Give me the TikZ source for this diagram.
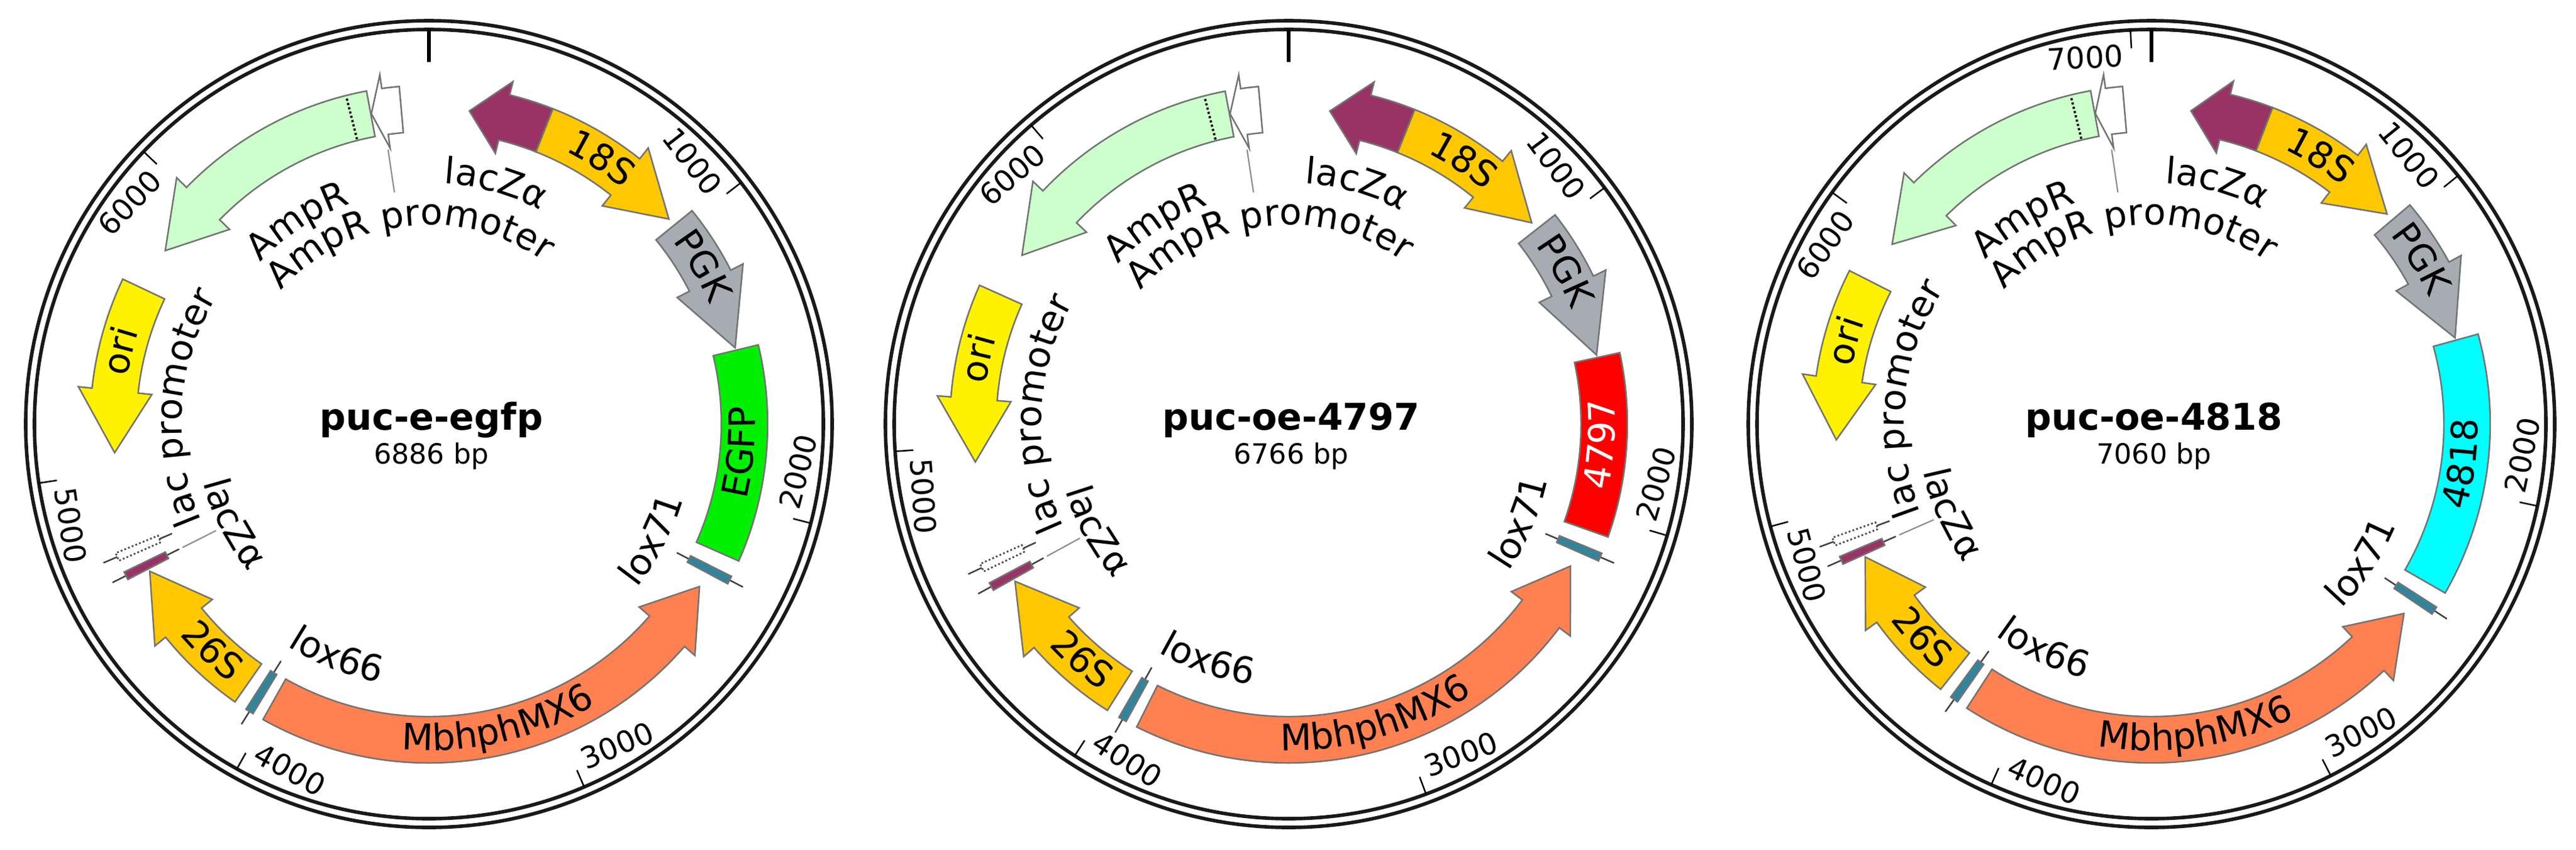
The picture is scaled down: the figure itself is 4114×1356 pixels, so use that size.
\documentclass[tikz,border=0pt]{standalone}
\usepackage{fontspec}
\setmainfont{DejaVu Sans}
\usetikzlibrary{decorations.text}
\definecolor{lacz}{HTML}{993366}
\definecolor{gold}{HTML}{FFC800}
\definecolor{pgk}{HTML}{A7ABB2}
\definecolor{mbh}{HTML}{FF8050}
\definecolor{amp}{HTML}{CCFFCC}
\definecolor{loxc}{HTML}{31859B}
\definecolor{egfp}{HTML}{00F000}
\definecolor{ins4797}{HTML}{FF0000}
\definecolor{ins4818}{HTML}{00FFFF}
\tikzset{
  feat/.style={draw=black!55, line width=0.7pt},
  ring/.style={line width=1.6pt, draw=black!90},
  tickline/.style={line width=0.7pt, draw=black},
  leader/.style={draw=black!45, line width=0.6pt},
  numlbl/.style={font=\numfont, inner sep=0pt},
}
\newcommand\lblfont{\fontsize{16.5}{18}\selectfont}
\newcommand\numfont{\fontsize{13.5}{15}\selectfont}
\def\rI{467}\def\rO{541}\def\rM{504}\def\rII{445}\def\rOO{563}
\newcommand\Ang[2]{\pgfmathsetmacro#1{90-((#2)+((#2)>2177)*\Dsh)/\Ntot*360}}
\newcommand\arrowfeat[4]{%
  \Ang\aT{#1}\Ang\aH{#2}\Ang\aP{#3}%
  \path[feat,fill=#4] (\aT:\rI) arc[start angle=\aT,end angle=\aH,radius=\rI]
    -- (\aH:\rII) -- (\aP:\rM) -- (\aH:\rOO) -- (\aH:\rO)
    arc[start angle=\aH,end angle=\aT,radius=\rO] -- cycle;}
\newcommand\boxfeat[3]{%
  \Ang\aT{#1}\Ang\aH{#2}%
  \path[feat,fill=#3] (\aT:\rI) arc[start angle=\aT,end angle=\aH,radius=\rI]
    -- (\aH:\rO) arc[start angle=\aH,end angle=\aT,radius=\rO] -- cycle;}
\newcommand\smallfeat[3]{%
  \Ang\aS{#1}\pgfmathsetmacro\aSp{\aS+0.7}\pgfmathsetmacro\aSm{\aS-0.7}%
  \draw[black!75, line width=0.7pt] (\aS:446) -- (\aS:565);
  \path[#3,fill=#2] (\aSp:468) -- (\aSp:541) -- (\aSm:541) -- (\aSm:468) -- cycle;}
\newcommand\arclbl[4]{%
  \Ang\aL{#1}\pgfmathsetmacro\th{90-\aL}%
  \pgfmathtruncatemacro\isbot{and(\th>90,\th<270)}%
  \ifnum\isbot=1
    \pgfmathsetmacro\rb{#2+17}\pgfmathsetmacro\aA{\aL-90}\pgfmathsetmacro\aB{\aL+90}%
  \else
    \pgfmathsetmacro\rb{#2-17}\pgfmathsetmacro\aA{\aL+90}\pgfmathsetmacro\aB{\aL-90}%
  \fi
  \path[decorate,decoration={text along path,text={#4#3},text align=center}]
    (\aA:\rb) arc[start angle=\aA,end angle=\aB,radius=\rb];}
\newcommand\leaderline[3]{\Ang\aQ{#1}\draw[leader] (\aQ:#2) -- (\aQ:#3);}
\newcommand\plasmid[9]{%
\begin{scope}[shift={(#1,-677)}]
  \def\Ntot{#2}\def\Dsh{#3}%
  \draw[ring] (0,0) circle[radius=644];
  \draw[ring] (0,0) circle[radius=630];
  \draw[line width=1.5pt] (90:630) -- (90:578);
  \foreach \n in {1000,2000,...,#9}{%
    \pgfmathsetmacro\tt{\n/\Ntot*360}\pgfmathsetmacro\ta{90-\tt}\pgfmathsetmacro\tb{\ta+1.3}%
    \draw[tickline] (\ta:630) -- (\ta:601);
    \pgfmathtruncatemacro\tbot{and(\tt>90,\tt<270)}%
    \ifnum\tbot=1
      \pgfmathsetmacro\rot{180-\tt}\node[numlbl,rotate=\rot,anchor=west] (n#1-\n) at (\tb:590) {\n};
    \else
      \pgfmathsetmacro\rot{-\tt}\node[numlbl,rotate=\rot,anchor=east] (n#1-\n) at (\tb:590) {\n};
    \fi}
  % features
  \arrowfeat{6790}{6733}{6685}{white}
  \arrowfeat{6683}{6012}{5802}{amp}
  \Ang\aD{6615}\draw[densely dotted, line width=1pt] (\aD:469) -- (\aD:539);
  \leaderline{6724}{443}{374}
  \arrowfeat{411}{264}{141}{lacz}
  \arrowfeat{411}{736}{947}{gold}
  \arrowfeat{975}{1205}{1454}{pgk}
  \boxfeat{1463}{2177.5}{#6}
  \smallfeat{2246}{loxc}{feat}
  \arrowfeat{4004}{2506}{2314}{mbh}
  \smallfeat{4055}{loxc}{feat}
  \arrowfeat{4111}{4419}{4633}{gold}
  \smallfeat{4656}{lacz}{feat}
  \leaderline{4656}{440}{380}
  \smallfeat{4723}{white}{draw=black!70,densely dotted,line width=0.8pt}
  \arrowfeat{5649}{5281}{5065}{yellow}
  % labels
  \arclbl{298}{402}{lacZα}{|\lblfont|}
  \arclbl{6257}{390}{AmpR}{|\lblfont|}
  \arclbl{6766}{335}{AmpR promoter}{|\lblfont|}
  \arclbl{5241}{412}{lac promoter}{|\lblfont|}
  \arclbl{4648}{355}{lacZα}{|\lblfont|}
  \arclbl{3858}{403}{lox66}{|\lblfont|}
  \arclbl{2244}{406}{lox71}{|\lblfont|}
  \arclbl{631}{504}{18S}{|\lblfont|}
  \arclbl{1148}{504}{PGK}{|\lblfont|}
  \pgfmathsetmacro\insmid{(1463+2177+\Dsh)/2}%
  \arclbl{\insmid}{504}{#7}{|\lblfont\color{#8}|}
  \arclbl{3194}{504}{MbhphMX6}{|\lblfont|}
  \arclbl{4279}{504}{26S}{|\lblfont|}
  \arclbl{5419}{504}{ori}{|\lblfont|}
  \node[font=\bfseries\fontsize{16.7}{19}\selectfont] (title#1) at (4,6) {#4};
  \node[font=\fontsize{12.6}{14}\selectfont] (size#1) at (4,-51) {#5};
\end{scope}}
\begin{document}
\begin{tikzpicture}[x=0.01cm,y=0.01cm]
\useasboundingbox[fill=white] (0,0) rectangle (4114,-1356);
\plasmid{685}{6886}{0}{puc-e-egfp}{6886 bp}{egfp}{EGFP}{black}{6000}
\plasmid{2058}{6766}{-120}{puc-oe-4797}{6766 bp}{ins4797}{4797}{white}{6000}
\plasmid{3436}{7060}{174}{puc-oe-4818}{7060 bp}{ins4818}{4818}{black}{7000}
\end{tikzpicture}
\end{document}
